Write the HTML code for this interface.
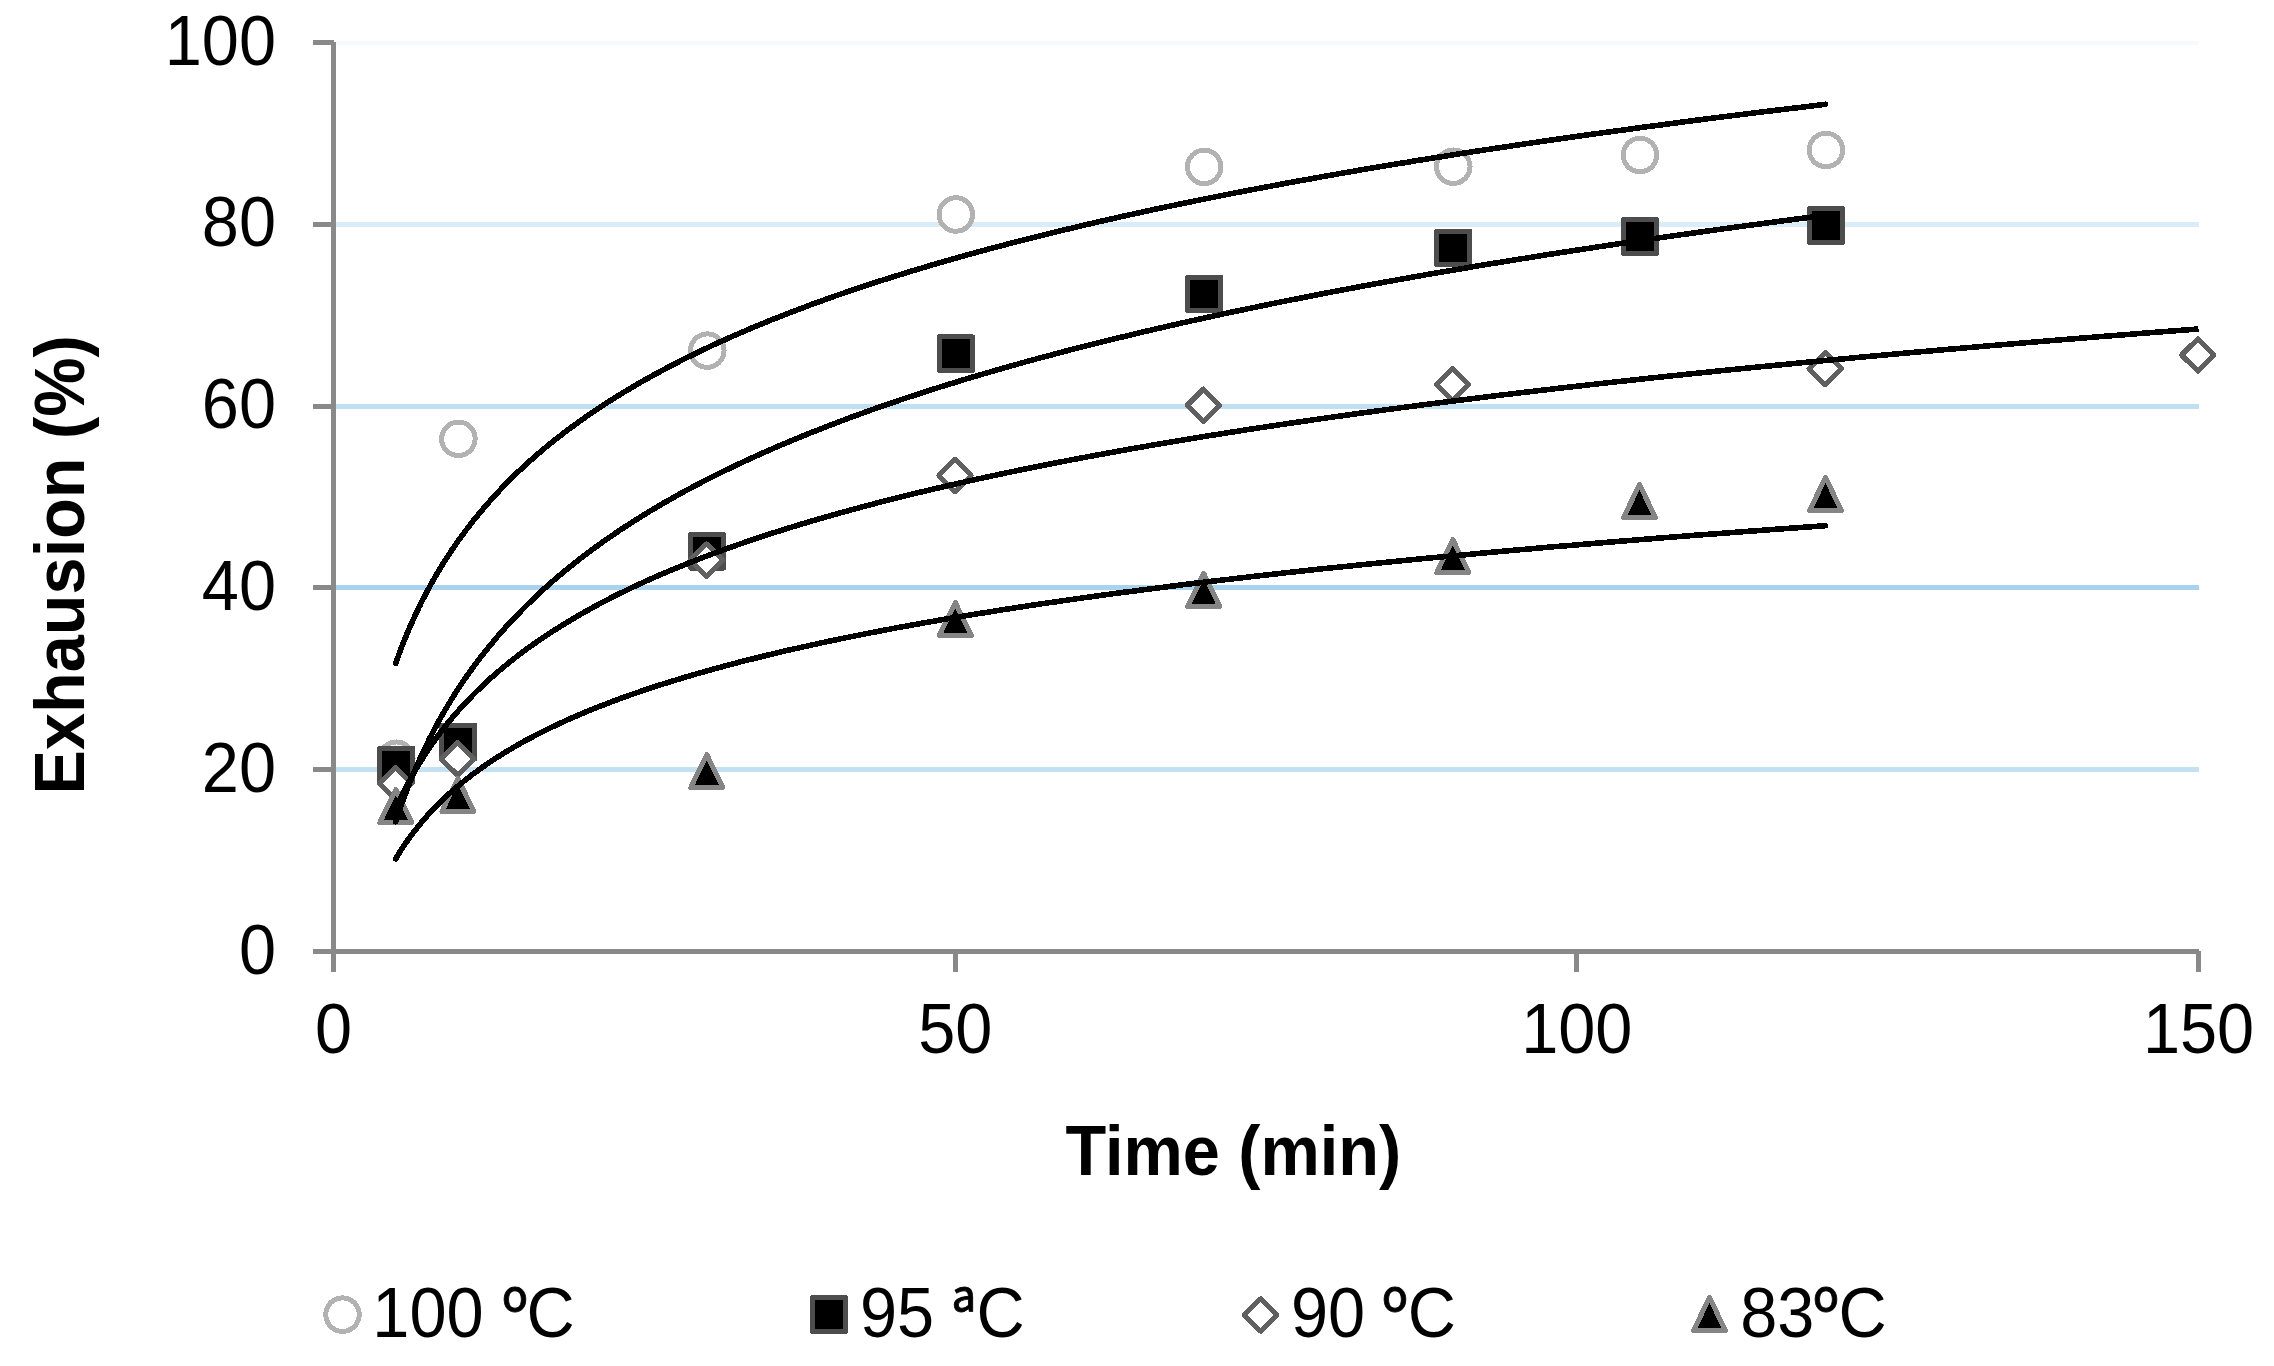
<!DOCTYPE html>
<html lang="en"><head><meta charset="utf-8"><title>Exhaustion vs time</title>
<style>html,body{margin:0;padding:0;background:#fff;}body{width:2274px;height:1366px;overflow:hidden;}svg{display:block;}text{font-family:"Liberation Sans",Arial,Helvetica,sans-serif;font-size:66.67px;fill:#000;}.b{font-weight:bold;}.o{font-family:"Noto Sans CJK SC","Liberation Sans",sans-serif;stroke:#000;stroke-width:0.8px;font-size:64px;}</style></head><body>
<svg width="2274" height="1366" viewBox="0 0 2274 1366" shape-rendering="crispEdges">
<rect x="0" y="0" width="2274" height="1366" fill="#fff"/>
<g id="grid">
<rect x="336" y="41" width="1863" height="4" fill="#f5fafd"/>
<rect x="336" y="222" width="1863" height="5" fill="#daecf8"/>
<rect x="336" y="404" width="1863" height="5" fill="#c0dff3"/>
<rect x="336" y="585" width="1863" height="5" fill="#a8d2ee"/>
<rect x="336" y="767" width="1863" height="5" fill="#c4e1f4"/>
</g>
<g id="axes" fill="#898989">
<rect x="331" y="42" width="5" height="930"/>
<rect x="313" y="949" width="1886" height="5"/>
<rect x="313" y="40" width="21" height="5"/>
<rect x="313" y="222" width="21" height="5"/>
<rect x="313" y="404" width="21" height="5"/>
<rect x="313" y="585" width="21" height="5"/>
<rect x="313" y="767" width="21" height="5"/>
<rect x="953" y="951" width="5" height="21"/>
<rect x="1574" y="951" width="5" height="21"/>
<rect x="2196" y="951" width="5" height="21"/>
</g>
<g id="s1"><circle cx="396.3" cy="758.7" r="16.75" fill="#fff" stroke="#b2b2b2" stroke-width="5"/><circle cx="458.4" cy="438.8" r="16.75" fill="#fff" stroke="#b2b2b2" stroke-width="5"/><circle cx="707.3" cy="350.6" r="16.75" fill="#fff" stroke="#b2b2b2" stroke-width="5"/><circle cx="955.8" cy="214.5" r="16.75" fill="#fff" stroke="#b2b2b2" stroke-width="5"/><circle cx="1204.2" cy="166.9" r="16.75" fill="#fff" stroke="#b2b2b2" stroke-width="5"/><circle cx="1453.3" cy="166.7" r="16.75" fill="#fff" stroke="#b2b2b2" stroke-width="5"/><circle cx="1640.0" cy="155.0" r="16.75" fill="#fff" stroke="#b2b2b2" stroke-width="5"/><circle cx="1826.0" cy="150.0" r="16.75" fill="#fff" stroke="#b2b2b2" stroke-width="5"/></g>
<g id="s2"><rect x="379.8" y="748.2" width="33" height="33.5" fill="#000" stroke="#4d4d4d" stroke-width="5" stroke-linejoin="round"/><rect x="441.9" y="725.0" width="33" height="33.5" fill="#000" stroke="#4d4d4d" stroke-width="5" stroke-linejoin="round"/><rect x="690.8" y="534.6" width="33" height="33.5" fill="#000" stroke="#4d4d4d" stroke-width="5" stroke-linejoin="round"/><rect x="939.3" y="336.8" width="33" height="33.5" fill="#000" stroke="#4d4d4d" stroke-width="5" stroke-linejoin="round"/><rect x="1187.7" y="277.2" width="33" height="33.5" fill="#000" stroke="#4d4d4d" stroke-width="5" stroke-linejoin="round"/><rect x="1436.8" y="231.2" width="33" height="33.5" fill="#000" stroke="#4d4d4d" stroke-width="5" stroke-linejoin="round"/><rect x="1623.5" y="219.8" width="33" height="33.5" fill="#000" stroke="#4d4d4d" stroke-width="5" stroke-linejoin="round"/><rect x="1809.5" y="208.7" width="33" height="33.5" fill="#000" stroke="#4d4d4d" stroke-width="5" stroke-linejoin="round"/></g>
<g id="s3"><path d="M395.5 767.2L411.8 783.5L395.5 799.8L379.2 783.5Z" fill="#fff" stroke="#606060" stroke-width="5" stroke-linejoin="round"/><path d="M457.6 742.6L473.8 758.9L457.6 775.1L441.3 758.9Z" fill="#fff" stroke="#606060" stroke-width="5" stroke-linejoin="round"/><path d="M706.5 543.9L722.8 560.1L706.5 576.4L690.2 560.1Z" fill="#fff" stroke="#606060" stroke-width="5" stroke-linejoin="round"/><path d="M955.0 459.2L971.2 475.5L955.0 491.8L938.8 475.5Z" fill="#fff" stroke="#606060" stroke-width="5" stroke-linejoin="round"/><path d="M1203.4 389.1L1219.7 405.3L1203.4 421.6L1187.2 405.3Z" fill="#fff" stroke="#606060" stroke-width="5" stroke-linejoin="round"/><path d="M1452.5 368.4L1468.8 384.6L1452.5 400.9L1436.2 384.6Z" fill="#fff" stroke="#606060" stroke-width="5" stroke-linejoin="round"/><path d="M1825.2 352.4L1841.5 368.7L1825.2 384.9L1809.0 368.7Z" fill="#fff" stroke="#606060" stroke-width="5" stroke-linejoin="round"/><path d="M2197.8 338.8L2214.0 355.0L2197.8 371.2L2181.5 355.0Z" fill="#fff" stroke="#606060" stroke-width="5" stroke-linejoin="round"/></g>
<g id="s4"><path d="M395.8 789.5L411.8 822.5L379.8 822.5Z" fill="#000" stroke="#858585" stroke-width="5" stroke-linejoin="round"/><path d="M457.9 778.4L473.9 811.4L441.9 811.4Z" fill="#000" stroke="#858585" stroke-width="5" stroke-linejoin="round"/><path d="M706.8 754.5L722.8 787.5L690.8 787.5Z" fill="#000" stroke="#858585" stroke-width="5" stroke-linejoin="round"/><path d="M955.3 602.5L971.3 635.5L939.3 635.5Z" fill="#000" stroke="#858585" stroke-width="5" stroke-linejoin="round"/><path d="M1203.7 573.4L1219.7 606.4L1187.7 606.4Z" fill="#000" stroke="#858585" stroke-width="5" stroke-linejoin="round"/><path d="M1452.8 539.5L1468.8 572.5L1436.8 572.5Z" fill="#000" stroke="#858585" stroke-width="5" stroke-linejoin="round"/><path d="M1639.5 484.5L1655.5 517.5L1623.5 517.5Z" fill="#000" stroke="#858585" stroke-width="5" stroke-linejoin="round"/><path d="M1825.5 477.5L1841.5 510.5L1809.5 510.5Z" fill="#000" stroke="#858585" stroke-width="5" stroke-linejoin="round"/></g>
<g id="trend">
<path d="M395.7 663.3L396.5 661.0L397.3 658.7L398.2 656.3L399.0 654.0L399.9 651.7L400.8 649.3L401.7 647.0L402.6 644.7L403.5 642.4L404.5 640.0L405.4 637.7L406.4 635.4L407.3 633.0L408.3 630.7L409.3 628.4L410.3 626.1L411.4 623.7L412.4 621.4L413.5 619.1L414.5 616.7L415.6 614.4L416.7 612.1L417.8 609.8L418.9 607.4L420.1 605.1L421.2 602.8L422.4 600.4L423.6 598.1L424.8 595.8L426.0 593.4L427.2 591.1L428.5 588.8L429.7 586.5L431.0 584.1L432.3 581.8L433.6 579.5L435.0 577.1L436.3 574.8L437.7 572.5L439.1 570.2L440.5 567.8L441.9 565.5L443.4 563.2L444.8 560.8L446.3 558.5L447.8 556.2L449.3 553.9L450.9 551.5L452.4 549.2L454.0 546.9L455.6 544.5L457.3 542.2L458.9 539.9L460.6 537.5L462.3 535.2L464.0 532.9L465.7 530.6L467.5 528.2L469.3 525.9L471.1 523.6L472.9 521.2L474.8 518.9L476.7 516.6L478.6 514.3L480.5 511.9L482.5 509.6L484.5 507.3L486.5 504.9L488.5 502.6L490.6 500.3L492.7 498.0L494.8 495.6L496.9 493.3L499.1 491.0L501.3 488.6L503.6 486.3L505.8 484.0L508.1 481.7L510.5 479.3L512.8 477.0L515.2 474.7L517.6 472.3L520.1 470.0L522.6 467.7L525.1 465.3L527.6 463.0L530.2 460.7L532.9 458.4L535.5 456.0L538.2 453.7L540.9 451.4L543.7 449.0L546.5 446.7L549.3 444.4L552.2 442.1L555.1 439.7L558.1 437.4L561.1 435.1L564.1 432.7L567.2 430.4L570.3 428.1L573.5 425.8L576.7 423.4L579.9 421.1L583.2 418.8L586.5 416.4L589.9 414.1L593.3 411.8L596.8 409.4L600.3 407.1L603.8 404.8L607.4 402.5L611.1 400.1L614.8 397.8L618.5 395.5L622.3 393.1L626.2 390.8L630.1 388.5L634.0 386.2L638.1 383.8L642.1 381.5L646.2 379.2L650.4 376.8L654.6 374.5L658.9 372.2L663.2 369.9L667.6 367.5L672.1 365.2L676.6 362.9L681.2 360.5L685.8 358.2L690.5 355.9L695.3 353.5L700.1 351.2L705.0 348.9L709.9 346.6L714.9 344.2L720.0 341.9L725.2 339.6L730.4 337.2L735.7 334.9L741.1 332.6L746.5 330.3L752.0 327.9L757.6 325.6L763.2 323.3L768.9 320.9L774.8 318.6L780.6 316.3L786.6 314.0L792.6 311.6L798.8 309.3L805.0 307.0L811.2 304.6L817.6 302.3L824.1 300.0L830.6 297.6L837.2 295.3L843.9 293.0L850.7 290.7L857.6 288.3L864.6 286.0L871.7 283.7L878.9 281.3L886.2 279.0L893.5 276.7L901.0 274.4L908.5 272.0L916.2 269.7L924.0 267.4L931.9 265.0L939.8 262.7L947.9 260.4L956.1 258.1L964.4 255.7L972.8 253.4L981.3 251.1L990.0 248.7L998.7 246.4L1007.6 244.1L1016.6 241.7L1025.7 239.4L1034.9 237.1L1044.3 234.8L1053.7 232.4L1063.3 230.1L1073.1 227.8L1082.9 225.4L1092.9 223.1L1103.0 220.8L1113.3 218.5L1123.7 216.1L1134.2 213.8L1144.9 211.5L1155.7 209.1L1166.7 206.8L1177.8 204.5L1189.0 202.2L1200.4 199.8L1212.0 197.5L1223.7 195.2L1235.6 192.8L1247.6 190.5L1259.8 188.2L1272.1 185.9L1284.6 183.5L1297.3 181.2L1310.2 178.9L1323.2 176.5L1336.4 174.2L1349.7 171.9L1363.3 169.5L1377.0 167.2L1390.9 164.9L1405.0 162.6L1419.3 160.2L1433.8 157.9L1448.4 155.6L1463.3 153.2L1478.4 150.9L1493.6 148.6L1509.1 146.3L1524.8 143.9L1540.6 141.6L1556.7 139.3L1573.0 136.9L1589.6 134.6L1606.3 132.3L1623.3 130.0L1640.5 127.6L1657.9 125.3L1675.5 123.0L1693.4 120.6L1711.5 118.3L1729.9 116.0L1748.5 113.6L1767.4 111.3L1786.5 109.0L1805.9 106.7L1825.5 104.3" fill="none" stroke="#000" stroke-width="5.6" stroke-linecap="round" stroke-linejoin="round"/>
<path d="M395.7 821.7L396.5 819.1L397.3 816.6L398.2 814.1L399.0 811.6L399.9 809.0L400.8 806.5L401.7 804.0L402.6 801.5L403.5 798.9L404.5 796.4L405.4 793.9L406.4 791.4L407.3 788.8L408.3 786.3L409.3 783.8L410.3 781.3L411.4 778.7L412.4 776.2L413.5 773.7L414.5 771.1L415.6 768.6L416.7 766.1L417.8 763.6L418.9 761.0L420.1 758.5L421.2 756.0L422.4 753.5L423.6 750.9L424.8 748.4L426.0 745.9L427.2 743.4L428.5 740.8L429.7 738.3L431.0 735.8L432.3 733.2L433.6 730.7L435.0 728.2L436.3 725.7L437.7 723.1L439.1 720.6L440.5 718.1L441.9 715.6L443.4 713.0L444.8 710.5L446.3 708.0L447.8 705.5L449.3 702.9L450.9 700.4L452.4 697.9L454.0 695.3L455.6 692.8L457.3 690.3L458.9 687.8L460.6 685.2L462.3 682.7L464.0 680.2L465.7 677.7L467.5 675.1L469.3 672.6L471.1 670.1L472.9 667.6L474.8 665.0L476.7 662.5L478.6 660.0L480.5 657.5L482.5 654.9L484.5 652.4L486.5 649.9L488.5 647.3L490.6 644.8L492.7 642.3L494.8 639.8L496.9 637.2L499.1 634.7L501.3 632.2L503.6 629.7L505.8 627.1L508.1 624.6L510.5 622.1L512.8 619.6L515.2 617.0L517.6 614.5L520.1 612.0L522.6 609.4L525.1 606.9L527.6 604.4L530.2 601.9L532.9 599.3L535.5 596.8L538.2 594.3L540.9 591.8L543.7 589.2L546.5 586.7L549.3 584.2L552.2 581.7L555.1 579.1L558.1 576.6L561.1 574.1L564.1 571.5L567.2 569.0L570.3 566.5L573.5 564.0L576.7 561.4L579.9 558.9L583.2 556.4L586.5 553.9L589.9 551.3L593.3 548.8L596.8 546.3L600.3 543.8L603.8 541.2L607.4 538.7L611.1 536.2L614.8 533.7L618.5 531.1L622.3 528.6L626.2 526.1L630.1 523.5L634.0 521.0L638.1 518.5L642.1 516.0L646.2 513.4L650.4 510.9L654.6 508.4L658.9 505.9L663.2 503.3L667.6 500.8L672.1 498.3L676.6 495.8L681.2 493.2L685.8 490.7L690.5 488.2L695.3 485.6L700.1 483.1L705.0 480.6L709.9 478.1L714.9 475.5L720.0 473.0L725.2 470.5L730.4 468.0L735.7 465.4L741.1 462.9L746.5 460.4L752.0 457.9L757.6 455.3L763.2 452.8L768.9 450.3L774.8 447.7L780.6 445.2L786.6 442.7L792.6 440.2L798.8 437.6L805.0 435.1L811.2 432.6L817.6 430.1L824.1 427.5L830.6 425.0L837.2 422.5L843.9 420.0L850.7 417.4L857.6 414.9L864.6 412.4L871.7 409.8L878.9 407.3L886.2 404.8L893.5 402.3L901.0 399.7L908.5 397.2L916.2 394.7L924.0 392.2L931.9 389.6L939.8 387.1L947.9 384.6L956.1 382.1L964.4 379.5L972.8 377.0L981.3 374.5L990.0 372.0L998.7 369.4L1007.6 366.9L1016.6 364.4L1025.7 361.8L1034.9 359.3L1044.3 356.8L1053.7 354.3L1063.3 351.7L1073.1 349.2L1082.9 346.7L1092.9 344.2L1103.0 341.6L1113.3 339.1L1123.7 336.6L1134.2 334.1L1144.9 331.5L1155.7 329.0L1166.7 326.5L1177.8 323.9L1189.0 321.4L1200.4 318.9L1212.0 316.4L1223.7 313.8L1235.6 311.3L1247.6 308.8L1259.8 306.3L1272.1 303.7L1284.6 301.2L1297.3 298.7L1310.2 296.2L1323.2 293.6L1336.4 291.1L1349.7 288.6L1363.3 286.0L1377.0 283.5L1390.9 281.0L1405.0 278.5L1419.3 275.9L1433.8 273.4L1448.4 270.9L1463.3 268.4L1478.4 265.8L1493.6 263.3L1509.1 260.8L1524.8 258.3L1540.6 255.7L1556.7 253.2L1573.0 250.7L1589.6 248.2L1606.3 245.6L1623.3 243.1L1640.5 240.6L1657.9 238.0L1675.5 235.5L1693.4 233.0L1711.5 230.5L1729.9 227.9L1748.5 225.4L1767.4 222.9L1786.5 220.4L1805.9 217.8L1825.5 215.3" fill="none" stroke="#000" stroke-width="5.6" stroke-linecap="round" stroke-linejoin="round"/>
<path d="M395.7 809.1L396.6 807.1L397.5 805.1L398.4 803.1L399.3 801.1L400.2 799.1L401.2 797.1L402.1 795.1L403.1 793.1L404.1 791.1L405.1 789.1L406.2 787.1L407.2 785.1L408.2 783.1L409.3 781.1L410.4 779.1L411.5 777.1L412.6 775.1L413.7 773.1L414.9 771.1L416.0 769.1L417.2 767.1L418.4 765.1L419.6 763.1L420.9 761.1L422.1 759.1L423.4 757.1L424.6 755.1L425.9 753.1L427.3 751.1L428.6 749.1L430.0 747.1L431.3 745.1L432.7 743.1L434.2 741.1L435.6 739.1L437.0 737.1L438.5 735.1L440.0 733.1L441.5 731.1L443.1 729.1L444.6 727.1L446.2 725.1L447.8 723.1L449.5 721.1L451.1 719.1L452.8 717.1L454.5 715.1L456.2 713.1L458.0 711.1L459.8 709.1L461.6 707.1L463.4 705.1L465.3 703.1L467.1 701.1L469.0 699.1L471.0 697.1L472.9 695.1L474.9 693.1L476.9 691.1L479.0 689.1L481.1 687.1L483.2 685.1L485.3 683.1L487.5 681.1L489.7 679.1L491.9 677.1L494.2 675.1L496.5 673.1L498.8 671.1L501.1 669.1L503.5 667.1L506.0 665.1L508.4 663.1L510.9 661.1L513.5 659.1L516.0 657.1L518.6 655.1L521.3 653.1L523.9 651.1L526.7 649.1L529.4 647.1L532.2 645.1L535.1 643.1L537.9 641.1L540.9 639.1L543.8 637.1L546.8 635.1L549.9 633.1L552.9 631.1L556.1 629.1L559.3 627.1L562.5 625.1L565.7 623.1L569.1 621.1L572.4 619.1L575.8 617.1L579.3 615.1L582.8 613.1L586.4 611.1L590.0 609.1L593.6 607.1L597.3 605.0L601.1 603.0L604.9 601.0L608.8 599.0L612.7 597.0L616.7 595.0L620.8 593.0L624.9 591.0L629.0 589.0L633.2 587.0L637.5 585.0L641.8 583.0L646.2 581.0L650.7 579.0L655.2 577.0L659.8 575.0L664.5 573.0L669.2 571.0L674.0 569.0L678.9 567.0L683.8 565.0L688.8 563.0L693.9 561.0L699.0 559.0L704.2 557.0L709.5 555.0L714.9 553.0L720.3 551.0L725.8 549.0L731.4 547.0L737.1 545.0L742.9 543.0L748.7 541.0L754.7 539.0L760.7 537.0L766.8 535.0L772.9 533.0L779.2 531.0L785.6 529.0L792.0 527.0L798.6 525.0L805.2 523.0L811.9 521.0L818.8 519.0L825.7 517.0L832.7 515.0L839.8 513.0L847.1 511.0L854.4 509.0L861.8 507.0L869.4 505.0L877.0 503.0L884.8 501.0L892.7 499.0L900.6 497.0L908.7 495.0L916.9 493.0L925.3 491.0L933.7 489.0L942.3 487.0L951.0 485.0L959.8 483.0L968.7 481.0L977.8 479.0L987.0 477.0L996.3 475.0L1005.8 473.0L1015.4 471.0L1025.1 469.0L1035.0 467.0L1045.0 465.0L1055.1 463.0L1065.4 461.0L1075.9 459.0L1086.5 457.0L1097.2 455.0L1108.1 453.0L1119.2 451.0L1130.4 449.0L1141.8 447.0L1153.3 445.0L1165.0 443.0L1176.9 441.0L1188.9 439.0L1201.1 437.0L1213.5 435.0L1226.1 433.0L1238.8 431.0L1251.7 429.0L1264.8 427.0L1278.1 425.0L1291.6 423.0L1305.3 421.0L1319.1 419.0L1333.2 417.0L1347.5 415.0L1361.9 413.0L1376.6 411.0L1391.5 409.0L1406.6 407.0L1421.9 405.0L1437.5 403.0L1453.2 401.0L1469.2 399.0L1485.4 397.0L1501.9 395.0L1518.5 393.0L1535.4 391.0L1552.6 389.0L1570.0 387.0L1587.6 385.0L1605.5 383.0L1623.7 381.0L1642.1 379.0L1660.8 377.0L1679.7 375.0L1699.0 373.0L1718.4 371.0L1738.2 369.0L1758.3 367.0L1778.6 365.0L1799.2 363.0L1820.1 361.0L1841.4 359.0L1862.9 357.0L1884.7 355.0L1906.8 353.0L1929.3 351.0L1952.1 349.0L1975.2 347.0L1998.6 345.0L2022.4 343.0L2046.5 341.0L2070.9 339.0L2095.7 337.0L2120.9 335.0L2146.4 333.0L2172.3 331.0L2198.5 329.0" fill="none" stroke="#000" stroke-width="5.6" stroke-linecap="butt" stroke-linejoin="round"/>
<path d="M395.7 858.8L396.5 857.4L397.3 856.0L398.2 854.6L399.0 853.3L399.9 851.9L400.8 850.5L401.7 849.1L402.6 847.7L403.5 846.3L404.5 844.9L405.4 843.5L406.4 842.2L407.3 840.8L408.3 839.4L409.3 838.0L410.3 836.6L411.4 835.2L412.4 833.8L413.5 832.4L414.5 831.1L415.6 829.7L416.7 828.3L417.8 826.9L418.9 825.5L420.1 824.1L421.2 822.7L422.4 821.3L423.6 820.0L424.8 818.6L426.0 817.2L427.2 815.8L428.5 814.4L429.7 813.0L431.0 811.6L432.3 810.2L433.6 808.8L435.0 807.5L436.3 806.1L437.7 804.7L439.1 803.3L440.5 801.9L441.9 800.5L443.4 799.1L444.8 797.7L446.3 796.4L447.8 795.0L449.3 793.6L450.9 792.2L452.4 790.8L454.0 789.4L455.6 788.0L457.3 786.6L458.9 785.3L460.6 783.9L462.3 782.5L464.0 781.1L465.7 779.7L467.5 778.3L469.3 776.9L471.1 775.5L472.9 774.2L474.8 772.8L476.7 771.4L478.6 770.0L480.5 768.6L482.5 767.2L484.5 765.8L486.5 764.4L488.5 763.0L490.6 761.7L492.7 760.3L494.8 758.9L496.9 757.5L499.1 756.1L501.3 754.7L503.6 753.3L505.8 751.9L508.1 750.6L510.5 749.2L512.8 747.8L515.2 746.4L517.6 745.0L520.1 743.6L522.6 742.2L525.1 740.8L527.6 739.5L530.2 738.1L532.9 736.7L535.5 735.3L538.2 733.9L540.9 732.5L543.7 731.1L546.5 729.7L549.3 728.4L552.2 727.0L555.1 725.6L558.1 724.2L561.1 722.8L564.1 721.4L567.2 720.0L570.3 718.6L573.5 717.2L576.7 715.9L579.9 714.5L583.2 713.1L586.5 711.7L589.9 710.3L593.3 708.9L596.8 707.5L600.3 706.1L603.8 704.8L607.4 703.4L611.1 702.0L614.8 700.6L618.5 699.2L622.3 697.8L626.2 696.4L630.1 695.0L634.0 693.7L638.1 692.3L642.1 690.9L646.2 689.5L650.4 688.1L654.6 686.7L658.9 685.3L663.2 683.9L667.6 682.6L672.1 681.2L676.6 679.8L681.2 678.4L685.8 677.0L690.5 675.6L695.3 674.2L700.1 672.8L705.0 671.5L709.9 670.1L714.9 668.7L720.0 667.3L725.2 665.9L730.4 664.5L735.7 663.1L741.1 661.7L746.5 660.3L752.0 659.0L757.6 657.6L763.2 656.2L768.9 654.8L774.8 653.4L780.6 652.0L786.6 650.6L792.6 649.2L798.8 647.9L805.0 646.5L811.2 645.1L817.6 643.7L824.1 642.3L830.6 640.9L837.2 639.5L843.9 638.1L850.7 636.8L857.6 635.4L864.6 634.0L871.7 632.6L878.9 631.2L886.2 629.8L893.5 628.4L901.0 627.0L908.5 625.7L916.2 624.3L924.0 622.9L931.9 621.5L939.8 620.1L947.9 618.7L956.1 617.3L964.4 615.9L972.8 614.5L981.3 613.2L990.0 611.8L998.7 610.4L1007.6 609.0L1016.6 607.6L1025.7 606.2L1034.9 604.8L1044.3 603.4L1053.7 602.1L1063.3 600.7L1073.1 599.3L1082.9 597.9L1092.9 596.5L1103.0 595.1L1113.3 593.7L1123.7 592.3L1134.2 591.0L1144.9 589.6L1155.7 588.2L1166.7 586.8L1177.8 585.4L1189.0 584.0L1200.4 582.6L1212.0 581.2L1223.7 579.9L1235.6 578.5L1247.6 577.1L1259.8 575.7L1272.1 574.3L1284.6 572.9L1297.3 571.5L1310.2 570.1L1323.2 568.7L1336.4 567.4L1349.7 566.0L1363.3 564.6L1377.0 563.2L1390.9 561.8L1405.0 560.4L1419.3 559.0L1433.8 557.6L1448.4 556.3L1463.3 554.9L1478.4 553.5L1493.6 552.1L1509.1 550.7L1524.8 549.3L1540.6 547.9L1556.7 546.5L1573.0 545.2L1589.6 543.8L1606.3 542.4L1623.3 541.0L1640.5 539.6L1657.9 538.2L1675.5 536.8L1693.4 535.4L1711.5 534.1L1729.9 532.7L1748.5 531.3L1767.4 529.9L1786.5 528.5L1805.9 527.1L1825.5 525.7" fill="none" stroke="#000" stroke-width="5.6" stroke-linecap="round" stroke-linejoin="round"/>
</g>
<g id="ylabels">
<text text-anchor="end" transform="translate(276 64.5) scale(1 1.042)">100</text>
<text text-anchor="end" transform="translate(276 246.3) scale(1 1.042)">80</text>
<text text-anchor="end" transform="translate(276 428.1) scale(1 1.042)">60</text>
<text text-anchor="end" transform="translate(276 609.9) scale(1 1.042)">40</text>
<text text-anchor="end" transform="translate(276 791.7) scale(1 1.042)">20</text>
<text text-anchor="end" transform="translate(276 973.5) scale(1 1.042)">0</text>
</g>
<g id="xlabels">
<text text-anchor="middle" transform="translate(333.5 1052.5) scale(1 1.042)">0</text>
<text text-anchor="middle" transform="translate(955.2 1052.5) scale(1 1.042)">50</text>
<text text-anchor="middle" transform="translate(1576.8 1052.5) scale(1 1.042)">100</text>
<text text-anchor="middle" transform="translate(2198.5 1052.5) scale(1 1.042)">150</text>
</g>
<text class="b" text-anchor="middle" transform="translate(1233.3 1174.5) scale(1 1.042)">Time (min)</text>
<text class="b" transform="translate(83.5 794.5) rotate(-90) scale(1 1.042)">Exhausion (%)</text>
<g id="legend">
<circle cx="342.5" cy="1314.6" r="16.75" fill="#fff" stroke="#b2b2b2" stroke-width="5"/>
<text transform="translate(372.3 1336.5) scale(1 1.042)">100 <tspan class="o" x="129.7" dy="4.3">º</tspan><tspan x="154.1" dy="-4.3">C</tspan></text>
<rect x="812.5" y="1297.8" width="33" height="33.5" fill="#000" stroke="#4d4d4d" stroke-width="5" stroke-linejoin="round"/>
<text transform="translate(860 1336.5) scale(1 1.042)">95 <tspan class="o" x="91.5" dy="4.3">ª</tspan><tspan x="116.4" dy="-4.3">C</tspan></text>
<path d="M1260.6 1298.8L1276.8 1315.0L1260.6 1331.2L1244.3 1315.0Z" fill="#fff" stroke="#606060" stroke-width="5" stroke-linejoin="round"/>
<text transform="translate(1291 1336.5) scale(1 1.042)">90 <tspan class="o" x="91.0" dy="4.3">º</tspan><tspan x="116.8" dy="-4.3">C</tspan></text>
<path d="M1709.5 1297.5L1725.5 1330.5L1693.5 1330.5Z" fill="#000" stroke="#858585" stroke-width="5" stroke-linejoin="round"/>
<text transform="translate(1740.2 1336.5) scale(1 1.042)">83<tspan class="o" x="72.8" dy="4.3">º</tspan><tspan x="98.4" dy="-4.3">C</tspan></text>
</g>
</svg></body></html>
